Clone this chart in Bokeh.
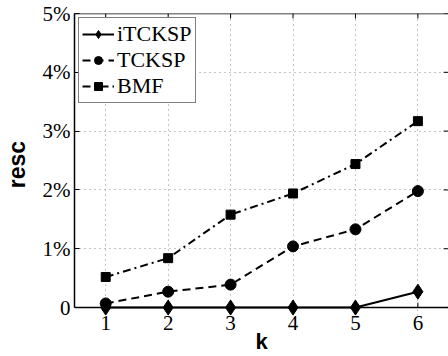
from bokeh.plotting import figure
from bokeh.models import FixedTicker, Range1d, Legend, LegendItem, Span
from bokeh.embed import file_html
from bokeh.resources import INLINE

k = [1, 2, 3, 4, 5, 6]
itcksp = [0.0, 0.0, 0.0, 0.0, 0.0, 0.27]
tcksp = [0.07, 0.27, 0.39, 1.04, 1.33, 1.98]
bmf = [0.52, 0.84, 1.58, 1.94, 2.44, 3.17]
y_ticks = [0, 1, 2, 3, 4, 5]
y_tick_labels = ["0", "1%", "2%", "3%", "4%", "5%"]

SERIF = "Liberation Serif"
SANS = "Liberation Sans"

X0, X1 = 0.5, 6.49
Y0, Y1 = -0.135, 5.0   # a little room below 0 so markers at 0 are not clipped

p = figure(width=448, height=356, output_backend="svg", toolbar_location=None,
           x_range=Range1d(X0, X1), y_range=Range1d(Y0, Y1),
           min_border_left=63, min_border_top=13, min_border_bottom=40, min_border_right=0)
p.outline_line_color = None
p.background_fill_color = "white"
p.border_fill_color = "white"

for ax in (p.xaxis[0], p.yaxis[0]):
    ax.axis_line_color = "black"
    ax.axis_line_width = 1.5
    ax.major_tick_in = 5
    ax.major_tick_out = 0
    ax.minor_tick_line_color = None
    ax.major_tick_line_color = "black"
    ax.major_label_text_font = SERIF
    ax.major_label_text_font_size = "21px"
    ax.major_label_text_color = "black"
    ax.axis_label_text_font = SANS
    ax.axis_label_text_font_style = "bold"
    ax.axis_label_text_color = "black"

p.xaxis.axis_label_text_font_size = "22px"
p.yaxis.axis_label_text_font_size = "23px"
p.xaxis.ticker = FixedTicker(ticks=k)
p.xaxis.axis_line_color = None
p.xaxis.major_tick_line_color = None
p.yaxis.ticker = FixedTicker(ticks=y_ticks)
p.yaxis.bounds = (0, 5)
p.yaxis.major_label_overrides = {t: s for t, s in zip(y_ticks, y_tick_labels)}
p.xaxis.axis_label = "k"
p.yaxis.axis_label = "resc"
p.xaxis.major_label_standoff = 0
p.yaxis.major_label_standoff = 4
p.xaxis.axis_label_standoff = -4
p.yaxis.axis_label_standoff = 10

p.grid.grid_line_color = "#8a8a8a"
p.grid.grid_line_dash = "1 4"
p.grid.grid_line_width = 1
p.xgrid.ticker = FixedTicker(ticks=k)
p.ygrid.ticker = FixedTicker(ticks=y_ticks)

# box: bottom line at 0, top line, inward ticks on all four sides
p.add_layout(Span(location=0, dimension="width", line_color="black", line_width=1.5))
p.add_layout(Span(location=Y1, dimension="width", line_color="black", line_width=1.5))
p.segment(x0=k, y0=[Y1] * len(k), x1=k, y1=[Y1 - 0.085] * len(k), line_color="black", line_width=1)
p.segment(x0=k, y0=[0] * len(k), x1=k, y1=[0.085] * len(k), line_color="black", line_width=1)
p.segment(x0=[X1] * len(y_ticks), y0=y_ticks, x1=[X1 - 0.078] * len(y_ticks), y1=y_ticks,
          line_color="black", line_width=1)

l1 = p.line(k, itcksp, line_color="black", line_width=2)
m1 = p.scatter(k, itcksp, marker="diamond", size=15, fill_color="black", line_color="black")
l2 = p.line(k, tcksp, line_color="black", line_width=2, line_dash="8 5")
m2 = p.scatter(k, tcksp, marker="circle", size=11, fill_color="black", line_color="black")
l3 = p.line(k, bmf, line_color="black", line_width=2, line_dash="8 4 2 4")
m3 = p.scatter(k, bmf, marker="square", size=9, fill_color="black", line_color="black")

legend = Legend(items=[
    LegendItem(label="iTCKSP", renderers=[l1, m1]),
    LegendItem(label="TCKSP", renderers=[l2, m2]),
    LegendItem(label="BMF", renderers=[l3, m3]),
], location="top_left")
legend.label_text_font = SERIF
legend.label_text_font_size = "22px"
legend.label_text_color = "black"
legend.glyph_width = 32
legend.glyph_height = 20
legend.label_height = 20
legend.label_standoff = 3
legend.spacing = -4
legend.padding = 3
legend.margin = 4
legend.border_line_color = "black"
legend.border_line_width = 1.5
legend.background_fill_color = "white"
legend.background_fill_alpha = 1
p.add_layout(legend, "center")

open("out.html", "w").write(file_html(p, INLINE))
